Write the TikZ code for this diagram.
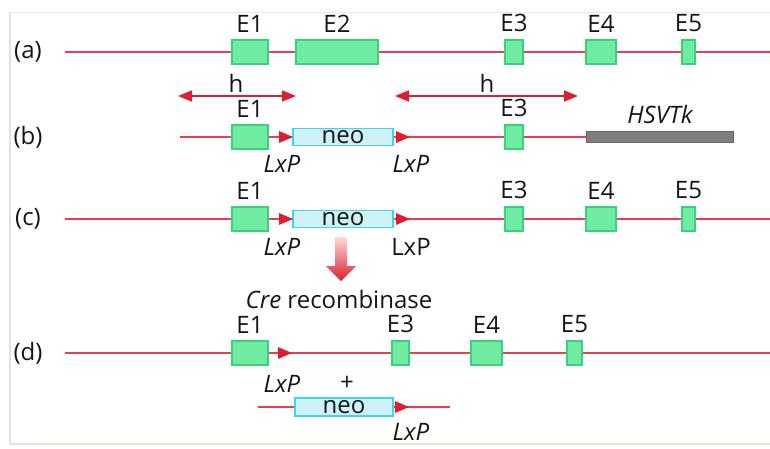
\documentclass[tikz,border=0pt]{standalone}
\usepackage{fontspec}
\setmainfont{Open Sans}
\usetikzlibrary{arrows.meta}

\definecolor{dnared}{HTML}{E8404F}
\definecolor{loxred}{HTML}{DC1E30}
\definecolor{exonfill}{HTML}{70EBA2}
\definecolor{exonedge}{HTML}{38D27A}
\definecolor{neofill}{HTML}{CFF2F8}
\definecolor{neoedge}{HTML}{3CD6E6}
\definecolor{tkgray}{HTML}{7E7E7E}
\definecolor{framecol}{HTML}{E6E0D8}
\definecolor{ink}{HTML}{151515}

\tikzset{
  dna/.style={draw=dnared, line width=1.6pt},
  exon/.style={draw=exonedge, fill=exonfill, line width=1.2pt, inner sep=0pt,
               minimum height=24pt},
  neobox/.style={draw=neoedge, fill=neofill, line width=1.2pt, inner sep=0pt,
                 minimum height=17pt, minimum width=100pt, text=ink},
  tkbar/.style={fill=tkgray, draw=tkgray!80!black, line width=0.6pt, inner sep=0pt,
                minimum height=11pt, minimum width=147pt},
  txt/.style={inner sep=0pt, text=ink},
  elab/.style={txt, anchor=south, yshift=7pt},
  lxp/.style={txt, font=\fontsize{24}{26}\selectfont\itshape},
  homarrow/.style={draw=loxred, line width=1.8pt,
                   {Triangle[length=14pt,width=11pt]}-{Triangle[length=14pt,width=11pt]}},
  loxtri/.style={fill=loxred},
}

\begin{document}
\begin{tikzpicture}[x=1pt, y=-1pt, font=\fontsize{24}{26}\selectfont]
\useasboundingbox (0,0) rectangle (770,448);

% faint frame of the panel
\draw[framecol, line width=1.5pt] (10,12) -- (10,444) -- (772,444);
\draw[framecol!70, line width=1pt] (10,12) -- (772,12);

% ---------------- row (a): wild-type locus ----------------
\node[txt] (la) at (28,52) {(a)};
\coordinate (a0) at (65,52);
\coordinate (a9) at (770,52);
\draw[dna] (a0) -- (a9);
\node[exon, minimum width=36pt] (a1) at (250,52) {};
\node[exon, minimum width=82pt] (a2) at (337,52) {};
\node[exon, minimum width=18pt] (a3) at (514,52) {};
\node[exon, minimum width=30pt] (a4) at (601,52) {};
\node[exon, minimum width=13pt] (a5) at (688.5,52) {};
\node[elab] at (a1.north) {E1};
\node[elab] at (a2.north) {E2};
\node[elab] at (a3.north) {E3};
\node[elab] at (a4.north) {E4};
\node[elab] at (a5.north) {E5};

% homology arms
\coordinate (h1l) at (178,96);
\coordinate (h1r) at (296,96);
\coordinate (h2l) at (395,96);
\coordinate (h2r) at (578,96);
\draw[homarrow] (h1l) -- (h1r);
\draw[homarrow] (h2l) -- (h2r);
\node[txt, anchor=base] (hl) at (236,92) {h};
\node[txt, anchor=base] (hr) at (487,92) {h};

% ---------------- row (b): targeting vector ----------------
\node[txt] (lb) at (28,137) {(b)};
\coordinate (b0) at (180,137);
\node[tkbar] (btk) at (659.5,137) {};
\draw[dna] (b0) -- (btk.west);
\node[exon, minimum width=36pt] (b1) at (250,137) {};
\node[neobox] (bneo) at (343,137) {neo};
\node[exon, minimum width=18pt] (b3) at (514,137) {};
\node[elab] at (b1.north) {E1};
\node[elab] at (b3.north) {E3};
\node[lxp] (btkl) at (660,114) {HSVTk};
\fill[loxtri] (279,131) -- (293,137) -- (279,143) -- cycle;
\fill[loxtri] (396,131) -- (410,137) -- (396,143) -- cycle;
\node[lxp] (bl1) at (282,164) {LxP};
\node[lxp] (bl2) at (411,164) {LxP};

% ---------------- row (c): targeted allele ----------------
\node[txt] (lc) at (28,219) {(c)};
\coordinate (c0) at (65,219);
\coordinate (c9) at (770,219);
\draw[dna] (c0) -- (c9);
\node[exon, minimum width=36pt] (c1) at (250,219) {};
\node[neobox] (cneo) at (343,219) {neo};
\node[exon, minimum width=18pt] (c3) at (514,219) {};
\node[exon, minimum width=30pt] (c4) at (601,219) {};
\node[exon, minimum width=13pt] (c5) at (688.5,219) {};
\node[elab] at (c1.north) {E1};
\node[elab] at (c3.north) {E3};
\node[elab] at (c4.north) {E4};
\node[elab] at (c5.north) {E5};
\fill[loxtri] (279,213) -- (293,219) -- (279,225) -- cycle;
\fill[loxtri] (396,213) -- (410,219) -- (396,225) -- cycle;
\node[lxp] (cl1) at (282,247) {LxP};
\node[txt] (cl2) at (411,247) {LxP};

% Cre step
\shade[top color=red!15, bottom color=loxred]
  (335,237) -- (347,237) -- (347,266) -- (356,266) -- (341,281)
  -- (326,266) -- (335,266) -- cycle;
\node[txt] (cre) at (339,299) {\textit{Cre} recombinase};

% ---------------- row (d): excised allele ----------------
\node[txt] (ld) at (28,353) {(d)};
\coordinate (d0) at (65,353);
\coordinate (d9) at (770,353);
\draw[dna] (d0) -- (d9);
\node[exon, minimum width=36pt] (d1) at (250,353) {};
\node[exon, minimum width=17pt] (d3) at (400.5,353) {};
\node[exon, minimum width=31pt] (d4) at (486.5,353) {};
\node[exon, minimum width=15pt] (d5) at (574.5,353) {};
\node[elab] at (d1.north) {E1};
\node[elab] at (d3.north) {E3};
\node[elab] at (d4.north) {E4};
\node[elab] at (d5.north) {E5};
\fill[loxtri] (278,347) -- (292,353) -- (278,359) -- cycle;
\node[lxp] (dl1) at (282,384) {LxP};
\node[txt] (plus) at (347,383) {+};

% excised neo fragment
\coordinate (e0) at (258,407);
\coordinate (e9) at (450,407);
\draw[dna] (e0) -- (e9);
\node[neobox, minimum width=98pt, minimum height=18pt] (eneo) at (344,407) {neo};
\fill[loxtri] (395,401) -- (409,407) -- (395,413) -- cycle;
\node[lxp] (el1) at (411,432) {LxP};
\end{tikzpicture}
\end{document}
